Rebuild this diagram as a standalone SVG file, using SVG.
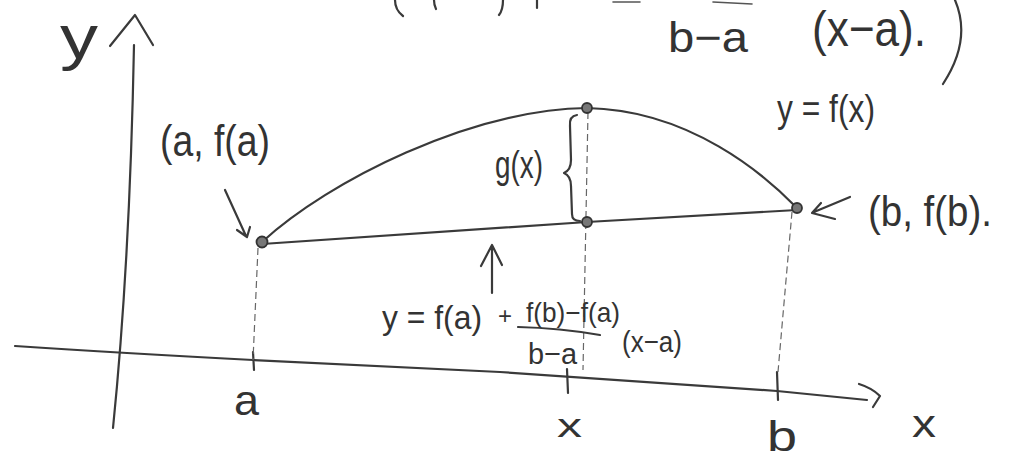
<svg xmlns="http://www.w3.org/2000/svg" width="1009" height="461" viewBox="0 0 1009 461">
<style>
.ln{fill:none;stroke:#3a3a3a;stroke-width:2.2;stroke-linecap:round;stroke-linejoin:round}
.thin{fill:none;stroke:#555;stroke-width:1.6;stroke-linecap:round}
.dash{fill:none;stroke:#666;stroke-width:1.2;stroke-dasharray:7 4}
.pt{fill:#777;stroke:#333;stroke-width:1.8}
.t{font-family:"Liberation Sans","DejaVu Sans",sans-serif;fill:#333}
</style>
<rect width="1009" height="461" fill="#fff"/>
<g id="top-fragments">
<path class="ln" d="M395,0 Q395,10 403,16"/>
<path class="ln" d="M434,0 Q434,5 436,9"/>
<path class="ln" d="M503,0 Q503,10 499,15"/>
<path class="ln" d="M537,0 L537,8"/>
<path class="thin" d="M613,2 L640,2 M713,2 L752,4"/>
<text class="t" x="668" y="52" font-size="42" textLength="80" lengthAdjust="spacingAndGlyphs">b−a</text>
<text class="t" x="812" y="46" font-size="50" textLength="114" lengthAdjust="spacingAndGlyphs">(x−a).</text>
<path class="ln" stroke-width="3" d="M955,0 Q972,40 943,84"/>
</g>
<g id="axes">
<path class="ln" d="M134,45 C132,150 126,300 113,428"/>
<path class="ln" d="M110,46 L135,15 L153,45"/>
<text class="t" x="60" y="58" font-size="62" textLength="38" lengthAdjust="spacingAndGlyphs">y</text>
<path class="ln" d="M15,346 Q120,353 253,360 L500,372 Q640,382 777,391 L867,400"/>
<path class="ln" d="M859,384 Q872,388 880,396 L873,407"/>
<text class="t" x="912" y="437" font-size="38" textLength="24" lengthAdjust="spacingAndGlyphs">x</text>
</g>
<g id="ticks">
<path class="ln" d="M253,352 L254,370"/>
<path class="ln" stroke-width="3" d="M567,369 L568,393"/>
<path class="ln" stroke-width="3" d="M777,372 L778,400"/>
<text class="t" x="234" y="415" font-size="42" textLength="25" lengthAdjust="spacingAndGlyphs">a</text>
<text class="t" x="557" y="437" font-size="34" textLength="25" lengthAdjust="spacingAndGlyphs">x</text>
<text class="t" x="767" y="451" font-size="42" textLength="30" lengthAdjust="spacingAndGlyphs">b</text>
</g>
<g id="dashed-verticals">
<path class="dash" d="M258,248 L253,360"/>
<path class="dash" d="M588,112 L583,370"/>
<path class="dash" d="M792,212 Q786,280 778,372"/>
</g>
<g id="function-curve">
<path class="ln" d="M262,242 C330,180 470,110 587,108 C690,110 765,175 797,208"/>
<text class="t" x="777" y="122" font-size="38" textLength="98" lengthAdjust="spacingAndGlyphs">y = f(x)</text>
</g>
<g id="chord">
<path class="ln" d="M262,244 L587,222 L797,210"/>
</g>
<g id="points">
<circle class="pt" cx="262" cy="242" r="5.5"/>
<circle class="pt" cx="587" cy="108" r="5"/>
<circle class="pt" cx="587" cy="222" r="5"/>
<circle class="pt" cx="797" cy="208" r="5"/>
</g>
<g id="label-a">
<text class="t" x="160" y="156" font-size="44" textLength="110" lengthAdjust="spacingAndGlyphs">(a, f(a)</text>
</g>
<g id="label-b">
<text class="t" x="868" y="226" font-size="42" textLength="124" lengthAdjust="spacingAndGlyphs">(b, f(b).</text>
</g>
<g id="label-g">
<path class="ln" d="M577,115 Q569,116 570,126 L571,160 Q571,170 564,173 Q571,176 571,186 L572,214 Q572,221 580,221"/>
<text class="t" x="495" y="178" font-size="38" textLength="48" lengthAdjust="spacingAndGlyphs">g(x)</text>
</g>
<g id="label-chord">
<text class="t" x="382" y="329" font-size="34" textLength="100" lengthAdjust="spacingAndGlyphs">y = f(a)</text>
<text class="t" x="498" y="324" font-size="24">+</text>
<text class="t" x="526" y="322" font-size="28" textLength="94" lengthAdjust="spacingAndGlyphs">f(b)−f(a)</text>
<path class="ln" d="M518,327 Q560,328 600,335"/>
<text class="t" x="528" y="364" font-size="30" textLength="49" lengthAdjust="spacingAndGlyphs">b−a</text>
<text class="t" x="622" y="352" font-size="30" textLength="60" lengthAdjust="spacingAndGlyphs">(x−a)</text>
</g>
<g id="connectors">
<path class="ln" d="M492,293 L492,246 M481,266 L492,245 L502,265"/>
<path class="ln" d="M225,190 L246,236 M237,230 L247,237 L250,227"/>
<path class="ln" d="M850,197 L814,212 M821,203 L812,213 L835,219"/>
</g>
</svg>
